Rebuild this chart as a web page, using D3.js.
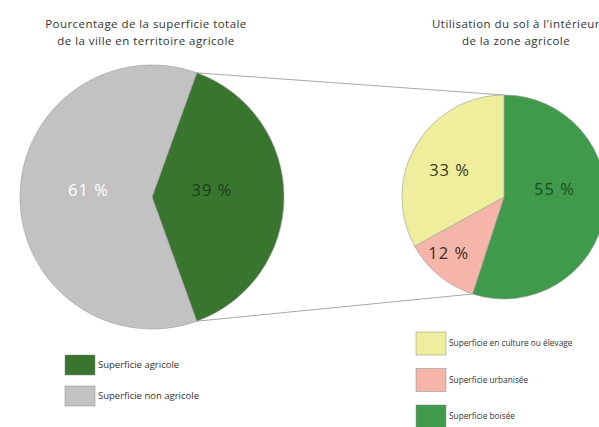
<!DOCTYPE html>
<html><head><meta charset="utf-8">
<script src="https://cdn.jsdelivr.net/npm/d3@7"></script>
<style>
html,body{margin:0;padding:0;background:#fff;}
svg{display:block;font-family:"Open Sans",sans-serif;}
</style></head>
<body>
<svg id="chart" width="599" height="427"></svg>
<script>
// Data
const totalCategories = ["Superficie agricole", "Superficie non agricole"];
const totalValues = [39, 61];
const totalColors = ["#3a7530", "#c2c2c2"];
const totalLabelColors = ["#1d3d18", "#ffffff"];

const useCategories = ["Superficie boisée", "Superficie urbanisée", "Superficie en culture ou élevage"];
const useValues = [55, 12, 33];
const useColors = ["#3f9a4c", "#f5b5a8", "#eeee9c"];
const useLabelColors = ["#1e4d24", "#3a2a2a", "#3a3a20"];

const leftTitle = ["Pourcentage de la superficie totale", "de la ville en territoire agricole"];
const rightTitle = ["Utilisation du sol à l'intérieur", "de la zone agricole"];

const leftLegendOrder = ["Superficie agricole", "Superficie non agricole"];
const rightLegendOrder = ["Superficie en culture ou élevage", "Superficie urbanisée", "Superficie boisée"];

const svg = d3.select("#chart");

// Left pie
const L = {cx: 152, cy: 197, r: 132};
const leftStart = Math.PI / 2 - (totalValues[0] / 100) * Math.PI; // agricultural slice centred on the right
const pieL = d3.pie().sort(null).value(d => d)
  .startAngle(leftStart).endAngle(leftStart + 2 * Math.PI);
const arcsL = pieL(totalValues);
const arcL = d3.arc().innerRadius(0).outerRadius(L.r);

// Right pie
const R = {cx: 504, cy: 197, r: 102};
const pieR = d3.pie().sort(null).value(d => d);
const arcsR = pieR(useValues);
const arcR = d3.arc().innerRadius(0).outerRadius(R.r);

// Connector lines (behind pies)
const pl = (c, a, r) => { const p = d3.pointRadial(a, r); return [c.cx + p[0], c.cy + p[1]]; };
const conn = [
  [pl(L, arcsL[0].startAngle, L.r), pl(R, arcsR[0].startAngle, R.r)],
  [pl(L, arcsL[0].endAngle, L.r), pl(R, arcsR[0].endAngle, R.r)]
];
svg.append("g").selectAll("line").data(conn).join("line")
  .attr("x1", d => d[0][0]).attr("y1", d => d[0][1])
  .attr("x2", d => d[1][0]).attr("y2", d => d[1][1])
  .attr("stroke", "#a8a8a8").attr("stroke-width", 1);

// label placement tweaks (style, not data)
const labOffL = [[0, -7], [2.5, -7]];
const labOffR = [[-2, -16], [-15, 7], [0, 5]];
const labRr = [0.52, 0.62, 0.62];

const gL = svg.append("g").attr("transform", `translate(${L.cx},${L.cy})`);
gL.selectAll("path").data(arcsL).join("path")
  .attr("d", arcL).attr("fill", (d, i) => totalColors[i])
  .attr("stroke", "#9a9a9a").attr("stroke-width", 0.6);
const labL = d3.arc().innerRadius(L.r * 0.5).outerRadius(L.r * 0.5);
gL.selectAll("text").data(arcsL).join("text")
  .attr("transform", (d, i) => { const c = labL.centroid(d); return `translate(${c[0] - (i===0?6:0) + labOffL[i][0]},${c[1] + labOffL[i][1]})`; })
  .attr("text-anchor", "middle").attr("dy", "0.35em")
  .attr("font-size", 16.5).attr("letter-spacing", 1)
  .attr("fill", (d, i) => totalLabelColors[i])
  .text(d => d.data + " %");

const gR = svg.append("g").attr("transform", `translate(${R.cx},${R.cy})`);
gR.selectAll("path").data(arcsR).join("path")
  .attr("d", arcR).attr("fill", (d, i) => useColors[i])
  .attr("stroke", "#9a9a9a").attr("stroke-width", 0.6);
gR.selectAll("text").data(arcsR).join("text")
  .attr("transform", (d, i) => { const a = d3.arc().innerRadius(R.r * labRr[i]).outerRadius(R.r * labRr[i]); const c = a.centroid(d); return `translate(${c[0] + labOffR[i][0]},${c[1] + labOffR[i][1]})`; })
  .attr("text-anchor", "middle").attr("dy", "0.35em")
  .attr("font-size", 16.5).attr("letter-spacing", 1)
  .attr("fill", (d, i) => useLabelColors[i])
  .text(d => d.data + " %");

// Titles
function title(lines, x) {
  svg.append("text").attr("x", x).attr("y", 28).attr("text-anchor", "middle")
    .attr("font-size", 11.5).attr("letter-spacing", 0.45).attr("fill", "#333")
    .selectAll("tspan").data(lines).join("tspan")
    .attr("x", x).attr("dy", (d, i) => i ? 17 : 0).text(d => d);
}
title(leftTitle, 146);
title(rightTitle, 516);

// Legends
function legend(items, colorOf, x, y0, step, h, fs) {
  const g = svg.append("g");
  const row = g.selectAll("g").data(items).join("g")
    .attr("transform", (d, i) => `translate(${x},${y0 + i * step})`);
  row.append("rect").attr("width", 30).attr("height", h)
    .attr("fill", d => colorOf(d)).attr("stroke", "#8a8a8a").attr("stroke-width", 0.5);
  row.append("text").attr("x", 33).attr("y", h / 2).attr("dy", "0.35em")
    .attr("font-size", fs).attr("fill", "#333").text(d => d);
}
legend(leftLegendOrder, d => totalColors[totalCategories.indexOf(d)], 65, 355, 31, 20, 9.5);
legend(rightLegendOrder, d => useColors[useCategories.indexOf(d)], 416, 332, 36.5, 23, 8.3);
</script>
</body></html>
